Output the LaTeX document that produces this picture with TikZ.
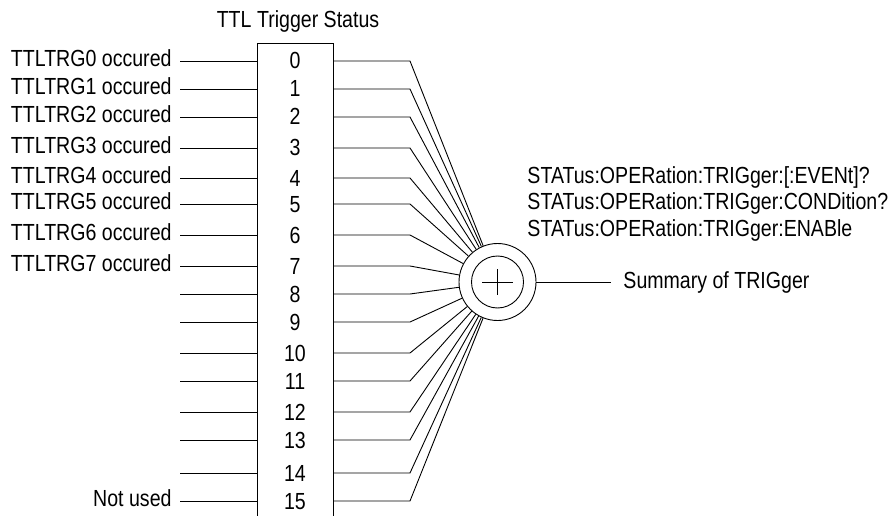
\documentclass[tikz,border=0pt]{standalone}
\usepackage{fontspec}
\setmainfont{Liberation Sans}[FakeStretch=0.84]
\begin{document}
\begin{tikzpicture}[x=1pt,y=-1pt,line width=0.9pt,
  txt/.style={inner sep=0pt,font=\fontsize{23.3}{27}\selectfont},
  lab/.style={txt,anchor=base east},
  num/.style={txt,anchor=base},
  wire/.style={line width=0.9pt}]
\useasboundingbox (0,0) rectangle (892,516);
% title
\node[txt,anchor=base] (title) at (298,27.3) {TTL Trigger Status};
% box (open at bottom)
\draw (257,516) -- (257,43) -- (333,43) -- (333,516);
% summing junction
\node[draw,circle,minimum size=77pt,inner sep=0pt] (sum) at (497.5,282) {};
\node[draw,circle,minimum size=52pt,inner sep=0pt] (sumin) at (497.5,282) {};
\draw (482,282) -- (513,282);
\draw (497.5,269) -- (497.5,295);
% rows
\foreach \i/\y/\t in {0/61/TTLTRG0 occured,1/89/TTLTRG1 occured,2/117/TTLTRG2 occured,
  3/148/TTLTRG3 occured,4/178/TTLTRG4 occured,5/204/TTLTRG5 occured,
  6/235/TTLTRG6 occured,7/266/TTLTRG7 occured,8/294/,9/322/,10/353/,
  11/381/,12/412/,13/440/,14/473/,15/501/Not used}{
  \node[lab] (lab\i) at (172,\y+5.7) {\t};
  \node[num] (n\i) at (295,\y+8) {\i};
  \coordinate (a\i) at (180,\y);
  \coordinate (b\i) at (257,\y);
  \coordinate (c\i) at (333,\y);
  \coordinate (d\i) at (410,\y);
  \draw[wire] (a\i) -- (b\i);
  \draw[wire] (c\i) -- (d\i) -- (sum);
}
% output
\coordinate (out) at (611,282);
\draw[wire] (sum) -- (out);
\node[txt,anchor=base west] (summ) at (623,288.3) {Summary of TRIGger};
\node[txt,anchor=base west] (q1) at (527,183) {STATus:OPERation:TRIGger:[:EVENt]?};
\node[txt,anchor=base west] (q2) at (527,210) {STATus:OPERation:TRIGger:CONDition?};
\node[txt,anchor=base west] (q3) at (527,236.7) {STATus:OPERation:TRIGger:ENABle};
\end{tikzpicture}
\end{document}
